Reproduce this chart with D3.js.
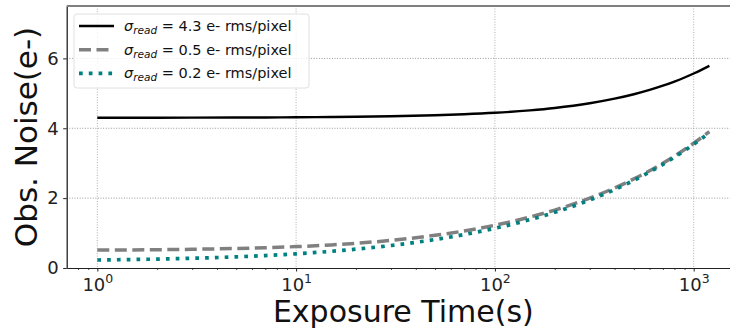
<!DOCTYPE html>
<html>
    <head>
        <script src="https://d3js.org/d3.v7.min.js"></script>
        <style>
            body { margin: 0; background: white; }
            #vizBody { font-family: "DejaVu Sans", sans-serif; }
        </style>
    </head>
    <body>
        <div id="vizBody"></div>
    </body>
    <script>
        let times = [1, 2, 3, 5, 7, 10, 15, 20, 30, 50, 70, 100, 150, 200, 300, 400, 500, 600, 700, 800, 900, 1000, 1100, 1200];
        let noiseHigh = [4.30, 4.303, 4.304, 4.307, 4.31, 4.314, 4.322, 4.329, 4.343, 4.372, 4.401, 4.443, 4.513, 4.581, 4.716, 4.847, 4.974, 5.098, 5.219, 5.338, 5.453, 5.567, 5.678, 5.787];
        let noiseMid = [0.512, 0.524, 0.536, 0.559, 0.581, 0.612, 0.661, 0.707, 0.791, 0.935, 1.061, 1.225, 1.458, 1.658, 2.0, 2.291, 2.55, 2.784, 3.0, 3.202, 3.391, 3.571, 3.742, 3.905];
        let noiseLow = [0.229, 0.255, 0.278, 0.32, 0.357, 0.406, 0.477, 0.539, 0.644, 0.815, 0.957, 1.136, 1.384, 1.594, 1.947, 2.245, 2.508, 2.746, 2.965, 3.169, 3.36, 3.541, 3.713, 3.878];
        let readNoise = ["4.3", "0.5", "0.2"];
        let xTicks = [1, 10, 100, 1000];
        let yTicks = [0, 2, 4, 6];

        //figure size and plot area
        let maxWidth = 730,
            maxHeight = 330,
            plotLeft = 66.7,
            plotTop = 6,
            plotRight = 740, //axes run a little past the window edge
            plotBottom = 268;

        let svg = d3.select("#vizBody")
                    .append("svg")
                        .attr("width", maxWidth)
                        .attr("height", maxHeight);

        //scales
        let xScale = d3.scaleLog()
                       .domain([Math.pow(10, -0.154), Math.pow(10, 3.233)])
                       .range([plotLeft, plotRight]);
        let yScale = d3.scaleLinear()
                       .domain([0, 7.5])
                       .range([plotBottom, plotTop]);

        //grid (dotted, major ticks only)
        svg.append("g")
           .selectAll("line")
           .data(xTicks)
           .join("line")
              .attr("x1", d => xScale(d)).attr("x2", d => xScale(d))
              .attr("y1", plotTop).attr("y2", plotBottom)
              .attr("stroke", "#b0b0b0")
              .attr("stroke-width", 1)
              .attr("stroke-dasharray", "1,1.6");
        svg.append("g")
           .selectAll("line")
           .data(yTicks.slice(1))
           .join("line")
              .attr("x1", plotLeft).attr("x2", plotRight)
              .attr("y1", d => yScale(d)).attr("y2", d => yScale(d))
              .attr("stroke", "#9a9a9a")
              .attr("stroke-width", 1)
              .attr("stroke-dasharray", "1,1.6");

        //series
        let series = [
            {values: noiseHigh, color: "black", width: 2.4, dash: null},
            {values: noiseMid, color: "gray", width: 3.5, dash: "12,5.5"},
            {values: noiseLow, color: "teal", width: 3.7, dash: "3.7,6.1"}
        ];

        let line = d3.line()
                     .x(d => xScale(d[0]))
                     .y(d => yScale(d[1]))
                     .curve(d3.curveMonotoneX);

        series.forEach(s => {
            svg.append("path")
               .datum(times.map((t, i) => [t, s.values[i]]))
               .attr("d", line)
               .attr("fill", "none")
               .attr("stroke", s.color)
               .attr("stroke-width", s.width)
               .attr("stroke-dasharray", s.dash);
        });

        //minor ticks on the log axis
        let minorTicks = [];
        [0.1, 1, 10, 100, 1000].forEach(dec => {
            for (let k = 2; k <= 9; k++) minorTicks.push(dec * k);
        });
        minorTicks = minorTicks.filter(v => v >= xScale.domain()[0] && v <= xScale.domain()[1]);

        svg.append("g")
           .attr("transform", "translate(0," + plotBottom + ")")
           .call(d3.axisBottom(xScale).tickValues(minorTicks).tickSize(2).tickFormat(""))
           .call(g => g.select(".domain").remove())
           .call(g => g.selectAll("line").attr("stroke", "#222").attr("stroke-width", 0.8));

        //major x axis with 10^n labels
        let xAxis = svg.append("g")
                       .attr("transform", "translate(0," + plotBottom + ")")
                       .call(d3.axisBottom(xScale).tickValues(xTicks).tickSize(3.5).tickPadding(4).tickSizeOuter(0).tickFormat(""));
        xAxis.select(".domain").attr("stroke", "#222").attr("stroke-width", 1.2);
        xAxis.selectAll(".tick line").attr("stroke", "#222").attr("stroke-width", 1);
        xAxis.selectAll(".tick").each(function(d) {
            let t = d3.select(this).select("text")
                      .attr("font-family", "DejaVu Sans")
                      .attr("font-size", 18)
                      .attr("fill", "#222")
                      .attr("dy", null)
                      .attr("y", 22.7)
                      .attr("text-anchor", "middle");
            t.append("tspan").text("10");
            t.append("tspan").attr("dy", -8).attr("font-size", 12.5).text(Math.round(Math.log10(d)));
        });

        //y axis
        let yAxis = svg.append("g")
                       .attr("transform", "translate(" + plotLeft + ",0)")
                       .call(d3.axisLeft(yScale).tickValues(yTicks).tickSize(3.5).tickPadding(4.5).tickSizeOuter(0));
        yAxis.select(".domain").attr("stroke", "#111").attr("stroke-width", 1.2);
        yAxis.selectAll(".tick line").attr("stroke", "#222").attr("stroke-width", 1);
        yAxis.selectAll(".tick text")
             .attr("font-family", "DejaVu Sans")
             .attr("font-size", 18)
             .attr("fill", "#222");

        //top spine
        svg.append("line")
           .attr("x1", plotLeft).attr("x2", plotRight)
           .attr("y1", plotTop).attr("y2", plotTop)
           .attr("stroke", "#808080")
           .attr("stroke-width", 2);

        //axis labels
        svg.append("text")
           .attr("x", (plotLeft + plotRight) / 2)
           .attr("y", 322)
           .attr("text-anchor", "middle")
           .attr("font-family", "DejaVu Sans")
           .attr("font-size", 30)
           .attr("fill", "#111")
           .text("Exposure Time(s)");
        svg.append("text")
           .attr("transform", "translate(37," + (plotTop + plotBottom) / 2 + ") rotate(-90)")
           .attr("text-anchor", "middle")
           .attr("font-family", "DejaVu Sans")
           .attr("font-size", 31)
           .attr("fill", "#111")
           .text("Obs. Noise(e-)");

        //legend
        let legend = svg.append("g");
        legend.append("rect")
              .attr("x", 74).attr("y", 14)
              .attr("width", 235).attr("height", 74)
              .attr("rx", 3)
              .attr("fill", "white").attr("fill-opacity", 0.8)
              .attr("stroke", "#e0e0e0").attr("stroke-width", 1);

        series.forEach((s, i) => {
            let cy = 26 + i * 23.7;
            legend.append("line")
                  .attr("x1", 79).attr("x2", 114)
                  .attr("y1", cy).attr("y2", cy)
                  .attr("stroke", s.color)
                  .attr("stroke-width", s.width)
                  .attr("stroke-dasharray", s.dash);
            let t = legend.append("text")
                          .attr("x", 124).attr("y", cy + 5)
                          .attr("font-family", "DejaVu Sans")
                          .attr("font-size", 14.5)
                          .attr("fill", "#111");
            t.append("tspan").attr("font-style", "italic").text("σ");
            t.append("tspan").attr("font-style", "italic").attr("font-size", 10.5).attr("dy", 3).text("read");
            t.append("tspan").attr("dy", -3).text(" = " + readNoise[i] + " e- rms/pixel");
        });
    </script>
</html>
